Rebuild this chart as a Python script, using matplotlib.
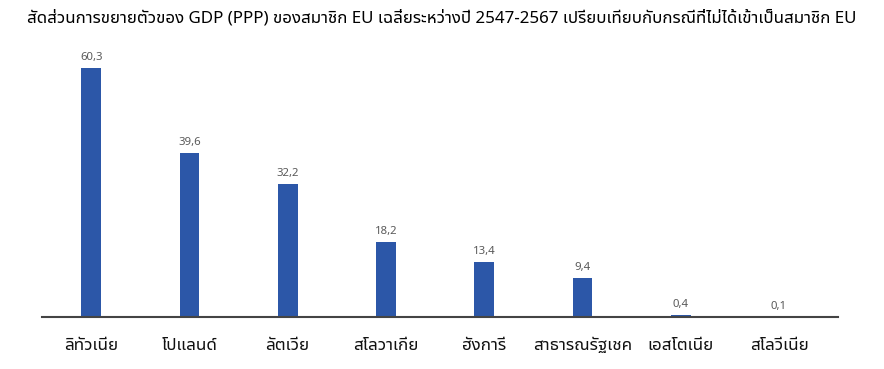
import matplotlib
matplotlib.use("Agg")
import matplotlib.pyplot as plt
from matplotlib import font_manager as fm

countries = ["ลิทัวเนีย", "โปแลนด์", "ลัตเวีย", "สโลวาเกีย", "ฮังการี", "สาธารณรัฐเชค", "เอสโตเนีย", "สโลวีเนีย"]
values = [60.3, 39.6, 32.2, 18.2, 13.4, 9.4, 0.4, 0.1]
labels = ["60,3", "39,6", "32,2", "18,2", "13,4", "9,4", "0,4", "0,1"]
title = "สัดส่วนการขยายตัวของ GDP (PPP) ของสมาชิก EU เฉลี่ยระหว่างปี 2547-2567 เปรียบเทียบกับกรณีที่ไม่ได้เข้าเป็นสมาชิก EU"

avail = {f.name for f in fm.fontManager.ttflist}
fams = [f for f in ["Noto Sans Thai UI", "Noto Sans Thai", "DejaVu Sans"] if f in avail]
plt.rcParams['font.family'] = fams

fig = plt.figure(figsize=(8.84, 3.69), dpi=100)
ax = fig.add_axes([42/884, 52/369, 796/884, 277/369])
x = list(range(len(values)))
ax.bar(x, values, width=0.2, color="#2c57a8")
for xi, v, lab in zip(x, values, labels):
    ax.text(xi, v + 1.2, lab, ha="center", va="bottom", fontsize=8.2, color="#5a5a5a", fontweight="bold")
ax.set_xlim(-0.5, 7.6)
ax.set_ylim(0, 67)
ax.set_xticks(x)
ax.set_xticklabels(countries, fontsize=12.3, color="#111111")
ax.tick_params(axis="x", length=0, pad=15)
ax.set_yticks([])
for s in ["top", "right", "left"]:
    ax.spines[s].set_visible(False)
ax.spines["bottom"].set_color("#444444")
ax.spines["bottom"].set_linewidth(1.5)
fig.text(0.5, 1 - 18/369, title, ha="center", va="center", fontsize=12.2, color="black")
fig.savefig("out.png", dpi=100)
